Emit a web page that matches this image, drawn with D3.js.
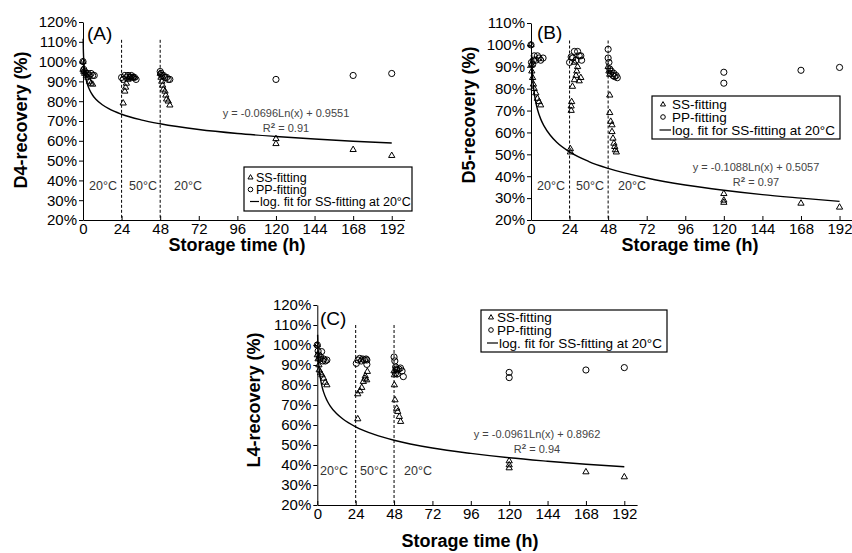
<!DOCTYPE html>
<html>
<head>
<meta charset="utf-8">
<script src="https://cdn.jsdelivr.net/npm/d3@7"></script>
<style>
  body { margin: 0; background: #fff; }
  svg { display: block; }
  text { font-family: "Liberation Sans", Arial, sans-serif; }
</style>
</head>
<body>
<script>
// Tick values
const hourTicks = [0, 24, 48, 72, 96, 120, 144, 168, 192];
const pctTicks120 = [20, 30, 40, 50, 60, 70, 80, 90, 100, 110, 120];
const pctTicks110 = [20, 30, 40, 50, 60, 70, 80, 90, 100, 110];

// Panel A (D4) - [storage time h, recovery %]
const ssA = [[0,100],[0,96],[0.5,95],[1,94],[2,93],[3,92],[4,90],[5,89],[6,88.5],
  [25,79],[26,85],[26.5,87],[27,89],[28,91],[29,92],[30,92],[31,92],[32,92],
  [48,94],[48.5,92],[49,90],[49.5,88],[50,86],[51,85],[51.5,83],[52,81],[53,80],[54,78],
  [120,61],[120,58.5],[168,55.5],[192,52.5]];
const ppA = [[0,100],[0.5,96],[1,95],[2,94],[3,94],[4,93],[5,94],[6,93],[7,93],
  [24,92],[25,91],[26,93],[27,92],[28,93],[29,92],[30,93],[31,92],[32,92],[33,91],
  [48,95],[48.5,94],[49,93],[50,93],[51,92],[52,92],[53,91],[54,91],
  [120,91],[168,93],[192,94]];

// Panel B (D5)
const ssB = [[0,100],[0.3,91],[0.5,88],[1,85],[1.5,82],[2,80],[3,78],[4,75.5],[5,74],[6,72.5],
  [24.5,52.5],[24.5,51],[25,70],[25,72],[25.3,74],[25.8,81],[27,84],[28,86],[28.5,88],[29,90],[30,83.5],[31,85],[27,92],
  [48,90],[48.5,88],[49,86.5],[49,77],[49,69],[49.6,65],[50.4,63.4],[50.4,60.3],[51,57.3],[51.6,55],[52.1,53.5],[52.5,52],[53.1,51],
  [120,32],[120,29],[120,28],[168,27.6],[192,25.8]];
const ppB = [[0,100],[0.3,92],[1,91],[1.5,93],[2,95],[3,93],[4,95],[5,94],[6,93],[7.5,94],
  [24,92],[25,94.5],[26,94],[27,97],[28,93],[29,97],[30,95],[31,95],[31.5,93],
  [48,98],[48,94],[48.5,92],[49,89],[49.5,87],[50,88],[51,86],[51.5,87],[52,85.5],[53,86],[53.7,85],
  [120,87.5],[120,82.5],[168,88.4],[192,89.7]];

// Panel C (L4)
const ssC = [[0,100],[0,95],[0.5,93],[1,90],[1.2,87.5],[2,86],[2.9,85],[4,83.3],[5,81.3],[6,80],
  [25.3,63],[25.3,75.5],[26.7,77],[27.8,78.7],[28.8,81.7],[29.8,83.3],[30.9,82.5],[31.3,86.7],[30,84.5],
  [48,87],[48.2,85],[48.2,80],[48.6,72.5],[49.7,68.3],[50.3,66.7],[51.3,64.2],[52.1,61.7],
  [120,42],[120,40],[120,38.5],[168,36.5],[192,34]];
const ppC = [[0,100],[0.5,97],[1,95],[1.5,93],[2,94],[2.7,96.7],[3.5,92],[4,93],[5,92],[6,92.5],
  [24.4,90.8],[25.5,92.5],[26.5,93.3],[27.5,92],[28.5,93],[29.5,92.5],[30.5,93],[31,92.5],[31,90.3],
  [48,94],[48.5,92],[49,89],[49.5,88],[50,87.5],[51,88],[52,88.5],[53,87],[53.8,84.2],[49,86],[50,85.5],
  [120,86.3],[120,83.7],[168,87.5],[192,88.7]];

// log. fit curves: [h, %]
const fitA = [[0.1,111.5],[0.2,106.7],[0.4,101.9],[0.7,98],[1,95.5],[1.5,92.7],[2,90.7],[3,87.9],[4,85.9],[6,83],
  [8,81],[12,78.2],[16,76.2],[24,73.4],[36,70.6],[48,68.6],[72,65.7],[96,63.7],[120,62.2],[144,60.9],[168,59.8],[192,58.9]];
const fitB = [[0.4,95.7],[0.7,89.6],[1,85.7],[1.5,81.3],[2,78.2],[3,73.7],[4,70.6],[6,66.2],
  [8,63.1],[12,58.7],[16,55.5],[24,51.1],[36,46.7],[48,43.6],[72,39.2],[96,36],[120,33.6],[144,31.6],[168,30],[192,28.5]];
const fitC = [[0.2,105.1],[0.4,98.4],[0.7,93.1],[1,89.6],[1.5,85.7],[2,83],[3,79.1],[4,76.3],[6,72.4],
  [8,69.6],[12,65.7],[16,63],[24,59.1],[36,55.2],[48,52.4],[72,48.5],[96,45.8],[120,43.6],[144,41.9],[168,40.4],[192,39.1]];

const svg = d3.select('body').append('svg')
  .attr('width', 852)
  .attr('height', 553);

const panels = [
  { label: '(A)', yTitle: 'D4-recovery (%)', ss: ssA, pp: ppA, fit: fitA, ticks: pctTicks120, yMax: 120,
    x0: 83, x1: 404.6, y0: 220, y1: 22, dashTop: 111,
    eq: 'y = -0.0696Ln(x) + 0.9551', r2: '0.91', eqX: 286, eqY: 117,
    temps: [103, 143, 188], tempY: 190, labelX: 87, labelY: 40,
    yTitleX: 27, yTitleY: 120, xTitleX: 237, xTitleY: 251,
    legend: { x: 244, y: 167, w: 168, h: 44, rows: [177.5, 189.5, 201.5], mx: 250.5, tx: 256, lx1: 250, lx2: 259, fs: 12.5 } },
  { label: '(B)', yTitle: 'D5-recovery (%)', ss: ssB, pp: ppB, fit: fitB, ticks: pctTicks110, yMax: 110,
    x0: 531, x1: 852.4, y0: 220, y1: 23, dashTop: 102,
    eq: 'y = -0.1088Ln(x) + 0.5057', r2: '0.97', eqX: 756, eqY: 171,
    temps: [551, 590, 632], tempY: 190, labelX: 537, labelY: 39,
    yTitleX: 475, yTitleY: 115, xTitleX: 690, xTitleY: 251,
    legend: { x: 652, y: 96, w: 188, h: 43, rows: [104.5, 117, 130], mx: 663, tx: 672, lx1: 659.5, lx2: 671, fs: 13.5 } },
  { label: '(C)', yTitle: 'L4-recovery (%)', ss: ssC, pp: ppC, fit: fitC, ticks: pctTicks120, yMax: 120,
    x0: 317.3, x1: 637.1, y0: 505, y1: 305, dashTop: 110,
    eq: 'y = -0.0961Ln(x) + 0.8962', r2: '0.94', eqX: 537, eqY: 438,
    temps: [334, 374, 418], tempY: 475, labelX: 320, labelY: 325,
    yTitleX: 260, yTitleY: 400, xTitleX: 470, xTitleY: 547,
    legend: { x: 481, y: 310, w: 186, h: 42, rows: [317.5, 330, 343], mx: 491, tx: 497, lx1: 487, lx2: 498, fs: 13.5 } }
];

const triangle = d3.symbol().type(d3.symbolTriangle);

panels.forEach(function(p) {
  const g = svg.append('g');

  const x = d3.scaleLinear().domain([0, 200]).range([p.x0, p.x1]);
  const y = d3.scaleLinear().domain([20, p.yMax]).range([p.y0, p.y1]);

  // dashed lines at the temperature changes
  [24, 48].forEach(function(h) {
    g.append('line')
      .attr('x1', x(h)).attr('x2', x(h))
      .attr('y1', y(p.dashTop)).attr('y2', y(20))
      .attr('stroke', '#000')
      .attr('stroke-width', 1)
      .attr('stroke-dasharray', '3,2');
  });

  // axes
  const xAxis = g.append('g')
    .attr('transform', `translate(0,${p.y0})`)
    .call(d3.axisBottom(x).tickValues(hourTicks).tickSizeInner(-4).tickSizeOuter(0).tickPadding(3));

  const yAxis = g.append('g')
    .attr('transform', `translate(${p.x0},0)`)
    .call(d3.axisLeft(y).tickValues(p.ticks).tickSize(4).tickSizeOuter(0).tickPadding(2)
      .tickFormat(d => d + '%'));

  [xAxis, yAxis].forEach(function(a) {
    a.selectAll('text')
      .style('font-size', '15px')
      .style('font-family', '"Liberation Sans", Arial, sans-serif')
      .attr('fill', '#000');
    a.selectAll('path, line').attr('stroke', '#000').attr('stroke-width', 1);
  });

  // log fit
  const line = d3.line()
    .x(d => x(d[0]))
    .y(d => y(d[1]))
    .curve(d3.curveMonotoneX);

  g.append('path')
    .datum(p.fit)
    .attr('d', line)
    .attr('fill', 'none')
    .attr('stroke', '#000')
    .attr('stroke-width', 1.4);

  // PP-fitting circles
  g.selectAll('circle.pp')
    .data(p.pp)
    .enter().append('circle')
    .attr('class', 'pp')
    .attr('cx', d => x(d[0]))
    .attr('cy', d => y(d[1]))
    .attr('r', 3.1)
    .attr('fill', 'none')
    .attr('stroke', '#000')
    .attr('stroke-width', 1);

  // SS-fitting triangles
  g.selectAll('path.ss')
    .data(p.ss)
    .enter().append('path')
    .attr('class', 'ss')
    .attr('d', triangle.size(17))
    .attr('transform', d => `translate(${x(d[0])},${y(d[1])})`)
    .attr('fill', 'none')
    .attr('stroke', '#000')
    .attr('stroke-width', 1);

  // temperature labels
  ['20°C', '50°C', '20°C'].forEach(function(t, i) {
    g.append('text')
      .attr('x', p.temps[i])
      .attr('y', p.tempY)
      .attr('text-anchor', 'middle')
      .style('font-size', '12.5px')
      .attr('fill', '#333')
      .text(t);
  });

  // equation and R²
  g.append('text')
    .attr('x', p.eqX).attr('y', p.eqY)
    .attr('text-anchor', 'middle')
    .style('font-size', '11px')
    .attr('fill', '#444')
    .text(p.eq);

  const r2 = g.append('text')
    .attr('x', p.eqX).attr('y', p.eqY + 15)
    .attr('text-anchor', 'middle')
    .style('font-size', '11px')
    .attr('fill', '#444');
  r2.append('tspan').text('R');
  r2.append('tspan').attr('dy', -4).style('font-size', '8px').style('font-weight', 'bold').text('2');
  r2.append('tspan').attr('dy', 4).text(' = ' + p.r2);

  // panel label
  g.append('text')
    .attr('x', p.labelX).attr('y', p.labelY)
    .style('font-size', '19px')
    .text(p.label);

  // axis titles
  g.append('text')
    .attr('transform', `translate(${p.yTitleX},${p.yTitleY}) rotate(-90)`)
    .attr('text-anchor', 'middle')
    .style('font-size', '18px')
    .style('font-weight', 'bold')
    .text(p.yTitle);

  g.append('text')
    .attr('x', p.xTitleX).attr('y', p.xTitleY)
    .attr('text-anchor', 'middle')
    .style('font-size', '18px')
    .style('font-weight', 'bold')
    .text('Storage time (h)');

  // legend
  const L = p.legend;
  const lg = g.append('g');
  lg.append('rect')
    .attr('x', L.x).attr('y', L.y)
    .attr('width', L.w).attr('height', L.h)
    .attr('fill', '#fff')
    .attr('stroke', '#000')
    .attr('stroke-width', 1.2);

  lg.append('path')
    .attr('d', triangle.size(11))
    .attr('transform', `translate(${L.mx},${L.rows[0]})`)
    .attr('fill', 'none').attr('stroke', '#000');
  lg.append('circle')
    .attr('cx', L.mx).attr('cy', L.rows[1]).attr('r', 2.3)
    .attr('fill', 'none').attr('stroke', '#000');
  lg.append('line')
    .attr('x1', L.lx1).attr('x2', L.lx2)
    .attr('y1', L.rows[2]).attr('y2', L.rows[2])
    .attr('stroke', '#000').attr('stroke-width', 1.2);

  ['SS-fitting', 'PP-fitting', 'log. fit for SS-fitting at 20°C'].forEach(function(t, i) {
    lg.append('text')
      .attr('x', i === 2 ? L.lx2 + 1 : L.tx)
      .attr('y', L.rows[i])
      .attr('dy', '0.35em')
      .style('font-size', L.fs + 'px')
      .text(t);
  });
});
</script>
</body>
</html>
